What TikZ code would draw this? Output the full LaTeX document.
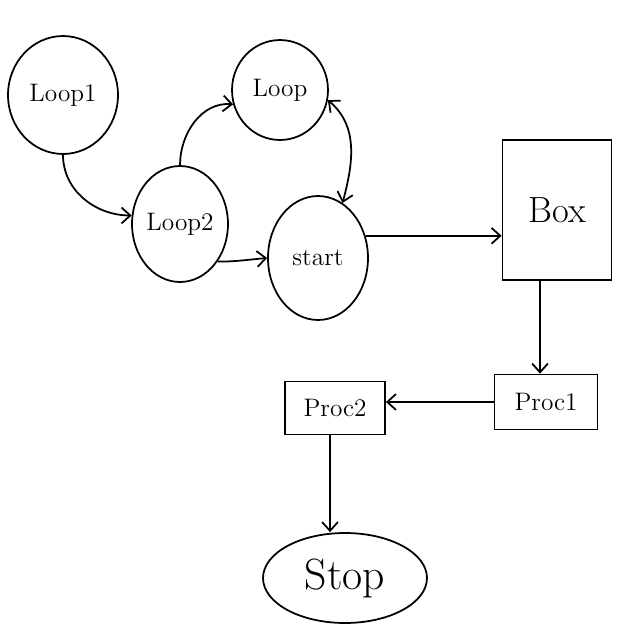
\documentclass[tikz,border=0pt]{standalone}
\usetikzlibrary{shapes.geometric,arrows.meta}
\begin{document}
\begin{tikzpicture}[x=0.02cm,y=-0.02cm,line width=1pt,
    >={Straight Barb[length=5pt,width=9pt]},
    st/.style={draw,ellipse,inner sep=0pt,font=\Large},
    pr/.style={draw,rectangle,inner sep=0pt,font=\Large}]
  \useasboundingbox (0,0) rectangle (640,640);
  % Loops on the left
  \node[st,minimum width=2.2cm,minimum height=2.36cm] (loop1) at (63,95) {Loop1};
  \node[st,minimum width=1.92cm,minimum height=2.0cm] (loop) at (280,90) {Loop};
  \node[st,minimum width=1.92cm,minimum height=2.32cm] (loop2) at (180,224) {Loop2};
  \node[st,minimum width=2.0cm,minimum height=2.48cm] (start) at (318,258) {start};
  % Box and processes
  \node[pr,minimum width=2.18cm,minimum height=2.8cm,font=\huge] (box) at (557,210) {Box};
  \node[pr,minimum width=2.06cm,minimum height=1.1cm] (proc1) at (546,402) {Proc1};
  \node[pr,minimum width=2.0cm,minimum height=1.06cm] (proc2) at (335,408) {Proc2};
  \node[st,minimum width=3.28cm,minimum height=1.8cm,font=\Huge] (stop) at (345,578) {Stop};
  % connectors
  \draw[->] (loop1.south) to[out=-90,in=180] (loop2.170);
  \draw[->] (loop2.north) to[out=90,in=175] (loop.197);
  \draw[<->] (loop.-12) to[out=-40,in=75] (start.66);
  \draw[->] (loop2.-45) to[out=0,in=185] (start.west);
  \draw[->] (start.25) -- (start.25 -| box.west);
  \draw[->] ([xshift=-0.34cm]box.south) -- ([xshift=-0.34cm]box.south |- proc1.north);
  \draw[->] (proc1.west) -- (proc1.west -| proc2.east);
  \draw[->] ([xshift=-0.1cm]proc2.south) -- ([xshift=-0.1cm]proc2.south |- stop.north);
\end{tikzpicture}
\end{document}
